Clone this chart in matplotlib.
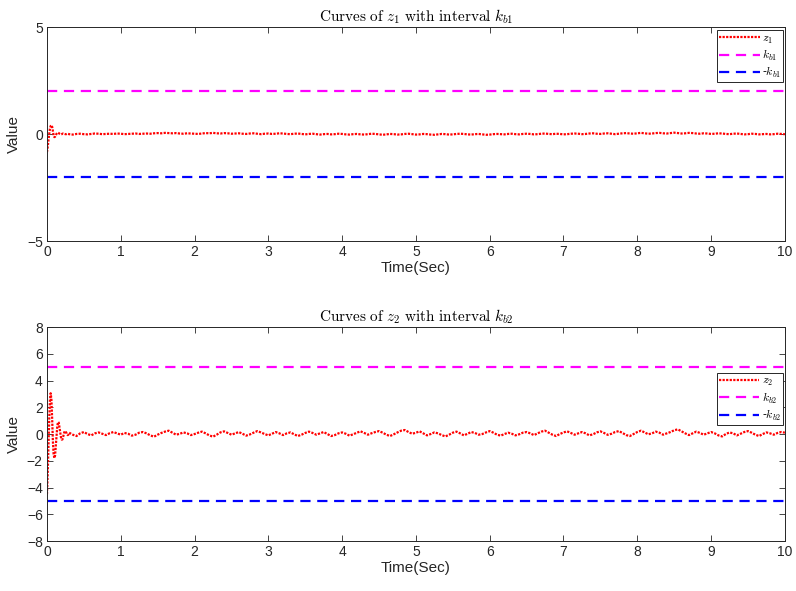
import numpy as np
import matplotlib
matplotlib.use("Agg")
import matplotlib.pyplot as plt

plt.rcParams['font.family'] = ['Liberation Sans', 'DejaVu Sans']
plt.rcParams['mathtext.fontset'] = 'cm'
dark = '#262626'

# time grid: fine at start, coarser afterwards
t_head = np.round(np.arange(0, 0.30, 0.01), 3)
t_tail = np.round(np.arange(0.30, 10.0001, 0.05), 3)
t = np.concatenate([t_head, t_tail])

z1_head = [-0.84, -0.60, -0.30, 0.00, 0.25, 0.38, 0.42, 0.35, 0.15, -0.05,
           -0.14, -0.12, -0.05, 0.02, 0.06, 0.07, 0.05, 0.02, 0.00, -0.01,
           0.00, 0.02, 0.03, 0.02, 0.01, 0.00, 0.00, 0.01, 0.02, 0.01]
z1_tail = [0.00, -0.02, 0.01, 0.02, 0.00, -0.01, 0.01, 0.03, 0.02, 0.00, 0.01, 0.02, 0.01, 0.03, 0.02, 0.00, 0.01, 0.02, 0.03, 0.01,
           0.02, 0.03, 0.02, 0.04, 0.05, 0.04, 0.06, 0.05, 0.04, 0.05, 0.03, 0.02, 0.04, 0.03, 0.02, 0.01, 0.03, 0.05, 0.04, 0.06,
           0.04, 0.03, 0.05, 0.04, 0.02, 0.03, 0.04, 0.02, 0.01, 0.03, 0.04, 0.02, 0.00, 0.02, 0.03, 0.01, 0.02, 0.04, 0.03, 0.01,
           0.00, 0.02, 0.03, 0.01, -0.01, 0.01, 0.02, 0.00, -0.02, 0.00, 0.01, -0.01, 0.00, 0.02, 0.01, -0.01, -0.02, 0.00, 0.01, -0.01,
           -0.02, 0.00, 0.02, 0.01, -0.01, -0.03, -0.01, 0.01, 0.00, -0.02, -0.01, 0.01, 0.02, 0.00, -0.02, -0.01, 0.01, 0.00, -0.02, -0.03,
           -0.01, 0.01, 0.00, -0.02, -0.01, 0.01, 0.02, 0.01, -0.01, -0.02, 0.00, 0.01, -0.01, -0.03, -0.02, 0.00, 0.01, 0.00, -0.01, 0.01,
           0.02, 0.00, -0.01, 0.01, 0.02, 0.01, -0.01, 0.00, 0.02, 0.03, 0.01, 0.00, 0.02, 0.01, -0.01, 0.00, 0.02, 0.03, 0.02, 0.00,
           0.01, 0.03, 0.04, 0.02, 0.01, 0.03, 0.04, 0.02, 0.00, 0.02, 0.04, 0.05, 0.03, 0.02, 0.04, 0.06, 0.04, 0.02, 0.03, 0.05,
           0.06, 0.04, 0.03, 0.05, 0.07, 0.05, 0.03, 0.04, 0.06, 0.05, 0.03, 0.02, 0.04, 0.03, 0.01, 0.02, 0.04, 0.03, 0.01, 0.00,
           0.02, 0.03, 0.01, -0.01, 0.00, 0.02, 0.01, -0.01, 0.00, 0.01, -0.01, 0.00, 0.02, 0.01, 0.00]

z2_head = [-4.50, -3.00, -1.00, 1.00, 2.50, 3.05, 2.60, 1.20, -0.50, -1.50,
           -1.80, -1.60, -0.90, -0.10, 0.60, 0.90, 0.85, 0.50, 0.10, -0.25,
           -0.42, -0.40, -0.20, 0.05, 0.20, 0.22, 0.12, 0.00, -0.08, -0.05]
z2_tail = [0.10, -0.05, -0.15, 0.05, 0.15, 0.00, -0.10, 0.05, 0.12, 0.02, -0.08, 0.06, 0.15, 0.05, -0.05, 0.08, 0.02, -0.12, -0.05, 0.10,
           0.15, 0.05, -0.10, -0.20, -0.05, 0.08, 0.18, 0.25, 0.10, -0.05, 0.02, 0.12, 0.05, -0.08, 0.00, 0.10, 0.18, 0.05, -0.10, -0.20,
           -0.05, 0.12, 0.20, 0.08, -0.05, 0.05, 0.15, 0.02, -0.12, -0.03, 0.10, 0.22, 0.12, 0.00, -0.10, 0.02, 0.15, 0.05, -0.08, 0.05,
           0.12, -0.02, -0.15, -0.05, 0.08, 0.18, 0.08, -0.05, 0.05, 0.15, 0.00, -0.15, -0.08, 0.05, 0.12, 0.02, -0.12, -0.02, 0.10, 0.20,
           0.08, -0.05, 0.06, 0.15, 0.22, 0.10, -0.05, -0.15, -0.02, 0.12, 0.25, 0.30, 0.15, 0.02, 0.10, 0.20, 0.05, -0.10, 0.00, 0.12,
           0.05, -0.08, -0.18, -0.05, 0.10, 0.18, 0.05, -0.10, 0.02, 0.15, 0.08, -0.05, 0.00, 0.12, 0.22, 0.10, -0.05, -0.12, 0.00, 0.10,
           0.02, -0.10, -0.02, 0.10, 0.15, 0.05, -0.08, 0.05, 0.18, 0.25, 0.10, -0.05, -0.15, 0.00, 0.12, 0.20, 0.08, -0.05, 0.05, 0.15,
           0.05, -0.10, -0.02, 0.12, 0.20, 0.08, -0.06, 0.02, 0.15, 0.22, 0.08, -0.08, -0.15, 0.00, 0.15, 0.25, 0.12, -0.02, 0.05, 0.18,
           0.10, -0.05, 0.05, 0.15, 0.28, 0.35, 0.20, 0.05, -0.08, 0.05, 0.18, 0.08, -0.05, 0.05, 0.15, 0.05, -0.10, -0.18, 0.00, 0.12,
           0.05, -0.10, 0.02, 0.15, 0.22, 0.10, -0.05, -0.15, 0.00, 0.12, 0.05, -0.05, 0.08, 0.15, 0.10]

z1 = np.array(z1_head + z1_tail)
z2 = np.array(z2_head + z2_tail)

kb1 = 2.0
kb2 = 5.0

panels = [
    dict(z=z1, kb=kb1, idx='1', ylim=(-5, 5), yticks=[-5, 0, 5], leg_anchor=(0.998, 0.986)),
    dict(z=z2, kb=kb2, idx='2', ylim=(-8, 8), yticks=list(range(-8, 9, 2)), leg_anchor=(0.998, 0.785)),
]

fig = plt.figure(figsize=(7.96, 5.91), dpi=100)
positions = [[0.059, 0.592, 0.927, 0.362], [0.059, 0.0846, 0.927, 0.362]]

for pos, p in zip(positions, panels):
    ax = fig.add_axes(pos)
    i = p['idx']
    ax.plot(t, p['z'], color='red', linestyle=(0, (1.0, 0.6)), linewidth=1.6,
            dash_capstyle='butt', label=r'$z_%s$' % i)
    ax.plot([0, 10], [p['kb'], p['kb']], color='magenta', linestyle=(0, (4.6, 3.0)),
            linewidth=1.6, label=r'$k_{b%s}$' % i)
    ax.plot([0, 10], [-p['kb'], -p['kb']], color='blue', linestyle=(0, (4.6, 3.0)),
            linewidth=1.6, label=r'-$k_{b%s}$' % i)
    ax.set_xlim(0, 10)
    ax.set_ylim(*p['ylim'])
    ax.set_xticks(range(0, 11))
    ax.set_yticks(p['yticks'])
    ax.tick_params(direction='in', top=True, right=True, labelsize=10, length=4,
                   width=0.6, pad=3, colors=dark)
    for s in ax.spines.values():
        s.set_linewidth(0.7)
        s.set_color(dark)
    ax.set_xlabel('Time(Sec)', fontsize=11, labelpad=1, color=dark)
    ax.set_ylabel('Value', fontsize=11, labelpad=4, color=dark)
    ax.set_title(r'$\mathrm{Curves\ of\ }z_%s\mathrm{\ with\ interval\ }k_{b%s}$' % (i, i),
                 fontsize=11, pad=4)
    leg = ax.legend(loc='upper right', bbox_to_anchor=p['leg_anchor'], fontsize=8.5,
                    handlelength=3.4, handletextpad=0.2, borderpad=0.2, labelspacing=0.18,
                    fancybox=False, framealpha=1, borderaxespad=0.0)
    leg.get_frame().set_edgecolor(dark)
    leg.get_frame().set_linewidth(0.7)

fig.savefig('out.png', dpi=100)
